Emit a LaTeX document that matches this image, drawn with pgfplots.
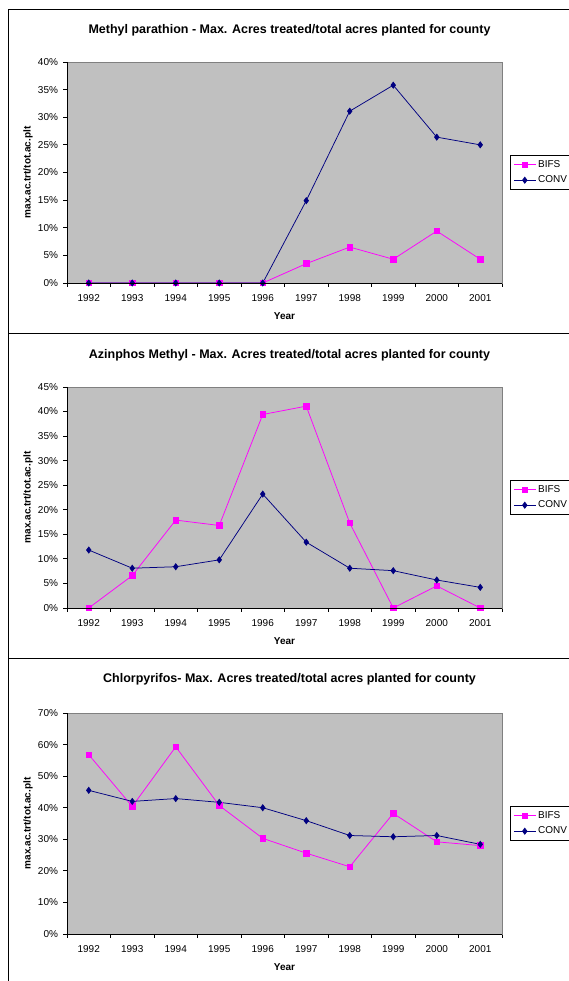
\documentclass[border=0pt]{standalone}
\usepackage{pgfplots}
\pgfplotsset{compat=1.18}
\usepackage{fontspec}
\setmainfont{Liberation Sans}

\definecolor{bifs}{HTML}{FF00FF}
\definecolor{conv}{HTML}{000080}
\definecolor{plotbg}{HTML}{C0C0C0}
\definecolor{plotedge}{HTML}{808080}

\pgfplotsset{
  panel/.style={
    scale only axis,
    width=435pt, height=221pt,
    xmin=-0.5, xmax=9.5, ymin=0,
    xtick={0,...,9},
    xticklabels={1992,1993,1994,1995,1996,1997,1998,1999,2000,2001},
    major x tick style={draw=none},
    minor xtick={-0.5,0.5,...,9.5},
    tick align=outside, tick pos=left,
    major tick length=4pt, minor tick length=4pt,
    tick style={black, line width=0.8pt},
    axis background/.style={fill=plotbg},
    axis line style={draw=plotedge, line width=0.8pt},
    ticklabel style={font=\fontsize{10}{12}\selectfont},
    xticklabel style={yshift=-4pt},
    yticklabel style={xshift=-1.5pt},
    title style={font=\bfseries\fontsize{12.5}{14}\selectfont, at={(0.5,1)}, anchor=center, yshift=26pt, xshift=5pt},
    xlabel={Year},
    xlabel style={font=\bfseries\fontsize{10}{12}\selectfont, at={(0.5,0)}, anchor=center, yshift=-33pt},
    ylabel={max.ac.trt/tot.ac.plt},
    % rotated 90 by default: yshift moves the label to the left
    ylabel style={font=\bfseries\fontsize{10}{12}\selectfont, at={(0,0.5)}, anchor=center, yshift=39pt},
    legend style={at={(1,0.5)}, anchor=west, xshift=8pt, draw=black, fill=white,
      font=\fontsize{10}{12}\selectfont, line width=0.8pt,
      inner xsep=3pt, inner ysep=3pt, row sep=3pt},
    legend cell align=left,
    legend image code/.code={\draw[mark repeat=2,mark phase=2,#1] plot coordinates {(0pt,0pt) (11pt,0pt) (22pt,0pt)};},
    every axis plot/.append style={line width=0.75pt},
    after end axis/.code={\draw[black, line width=0.8pt] (rel axis cs:0,1) -- (rel axis cs:0,0) -- (rel axis cs:1,0);},
  },
  bifsline/.style={color=bifs, mark=square*, mark size=2.8pt, mark options={solid}},
  convline/.style={color=conv, mark=diamond*, mark size=3pt, mark options={solid}},
}

\begin{document}
\begin{tikzpicture}
% panel frames
\draw[line width=1pt] (8pt,647pt) rectangle (600pt,971pt);
\draw[line width=1pt] (8pt,322pt) rectangle (600pt,647pt);
\draw[line width=1pt] (8pt,-20pt) rectangle (600pt,322pt);

\begin{axis}[panel, at={(67pt,698pt)}, anchor=south west,
  title={Methyl parathion - Max. Acres treated/total acres planted for county},
  ymax=40, ytick={0,5,...,40},
  yticklabels={0\%,5\%,10\%,15\%,20\%,25\%,30\%,35\%,40\%}]
\addplot[bifsline] coordinates {(0,0) (1,0) (2,0) (3,0) (4,0) (5,3.5) (6,6.5) (7,4.3) (8,9.4) (9,4.3)};
\addlegendentry{BIFS}
\addplot[convline] coordinates {(0,0) (1,0) (2,0) (3,0) (4,0) (5,14.9) (6,31.1) (7,35.8) (8,26.4) (9,25.0)};
\addlegendentry{CONV}
\end{axis}

\begin{axis}[panel, at={(67pt,373pt)}, anchor=south west,
  title={Azinphos Methyl - Max. Acres treated/total acres planted for county},
  ymax=45, ytick={0,5,...,45},
  yticklabels={0\%,5\%,10\%,15\%,20\%,25\%,30\%,35\%,40\%,45\%}]
\addplot[bifsline] coordinates {(0,0) (1,6.6) (2,17.9) (3,16.8) (4,39.4) (5,41.1) (6,17.3) (7,0) (8,4.5) (9,0)};
\addlegendentry{BIFS}
\addplot[convline] coordinates {(0,11.8) (1,8.1) (2,8.4) (3,9.8) (4,23.2) (5,13.4) (6,8.1) (7,7.6) (8,5.7) (9,4.2)};
\addlegendentry{CONV}
\end{axis}

\begin{axis}[panel, at={(67pt,47pt)}, anchor=south west,
  title={Chlorpyrifos- Max. Acres treated/total acres planted for county},
  title style={yshift=2pt},
  ymax=70, ytick={0,10,...,70},
  yticklabels={0\%,10\%,20\%,30\%,40\%,50\%,60\%,70\%}]
\addplot[bifsline] coordinates {(0,56.8) (1,40.4) (2,59.3) (3,40.7) (4,30.3) (5,25.6) (6,21.3) (7,38.2) (8,29.2) (9,28.0)};
\addlegendentry{BIFS}
\addplot[convline] coordinates {(0,45.5) (1,42.0) (2,42.9) (3,41.7) (4,40.0) (5,35.9) (6,31.2) (7,30.8) (8,31.2) (9,28.4)};
\addlegendentry{CONV}
\end{axis}

\pgfresetboundingbox
\useasboundingbox (0,0) rectangle (569pt,981pt);
\end{tikzpicture}
\end{document}
